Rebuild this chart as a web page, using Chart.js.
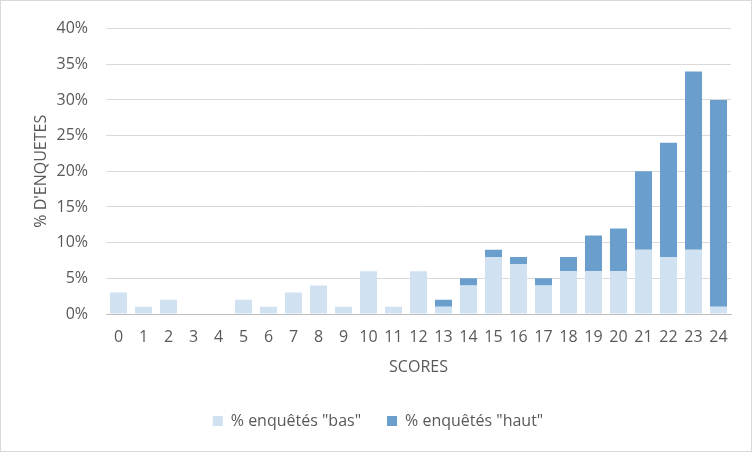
<!DOCTYPE html>
<html lang="fr">
<head>
<meta charset="utf-8">
<title>Scores des enquêtés</title>
<script src="https://cdn.jsdelivr.net/npm/chart.js@4/dist/chart.umd.min.js"></script>
<style>
  html, body { margin: 0; padding: 0; background: #ffffff; }
  #frame {
    width: 752px; height: 452px; box-sizing: border-box;
    border: 1px solid #d9d9d9; background: #ffffff;
  }
  canvas { display: block; }
</style>
</head>
<body>
<div id="frame"><canvas id="chart" width="750" height="450"></canvas></div>
<script>
// Scores 0..24 and share of respondents (in %) for each group
const scores = ['0','1','2','3','4','5','6','7','8','9','10','11','12',
                '13','14','15','16','17','18','19','20','21','22','23','24'];
const pctBas  = [3, 1, 2, 0, 0, 2, 1, 3, 4, 1, 6, 1, 6, 1, 4, 8, 7, 4, 6, 6, 6, 9, 8, 9, 1];
const pctHaut = [0, 0, 0, 0, 0, 0, 0, 0, 0, 0, 0, 0, 0, 1, 1, 1, 1, 1, 2, 5, 6, 11, 16, 25, 29];
const yTicks  = [0, 5, 10, 15, 20, 25, 30, 35, 40];

const FONT = { family: '"Open Sans", "Liberation Sans", sans-serif', size: 16 };
const TEXT = '#595959';

new Chart(document.getElementById('chart'), {
  type: 'bar',
  data: {
    labels: scores,
    datasets: [
      { label: '% enquêtés "bas"',  data: pctBas,  backgroundColor: '#d0e1f2' },
      { label: '% enquêtés "haut"', data: pctHaut, backgroundColor: '#6a9fcd' }
    ]
  },
  options: {
    responsive: false,
    animation: false,
    events: [],
    layout: { padding: { left: 24, right: 20, top: 20, bottom: 12 } },
    datasets: { bar: { categoryPercentage: 1, barPercentage: 0.68 } },
    plugins: {
      tooltip: { enabled: false },
      legend: {
        position: 'bottom',
        labels: {
          color: TEXT, font: FONT,
          boxWidth: 10, boxHeight: 10, padding: 26
        }
      }
    },
    scales: {
      x: {
        stacked: true,
        grid: { display: false, drawTicks: false },
        border: { display: true, color: '#bfbfbf', width: 1 },
        ticks: { color: TEXT, font: FONT, padding: 14, maxRotation: 0, autoSkip: false },
        title: { display: true, text: 'SCORES', color: TEXT, font: FONT, padding: { top: 4, bottom: 10 } },
        afterFit: s => { s.height = 73; }
      },
      y: {
        stacked: true,
        min: 0, max: 40,
        afterBuildTicks: s => { s.ticks = yTicks.map(v => ({ value: v })); },
        grid: { color: '#d9d9d9', lineWidth: 1, drawTicks: false },
        border: { display: false },
        ticks: { color: TEXT, font: FONT, padding: 18, callback: v => v + '%' },
        title: { display: true, text: "% D'ENQUETES", color: TEXT, font: FONT, padding: { top: 7, bottom: 0 } },
        afterFit: s => { s.width = 81; }
      }
    }
  }
});
</script>
</body>
</html>
